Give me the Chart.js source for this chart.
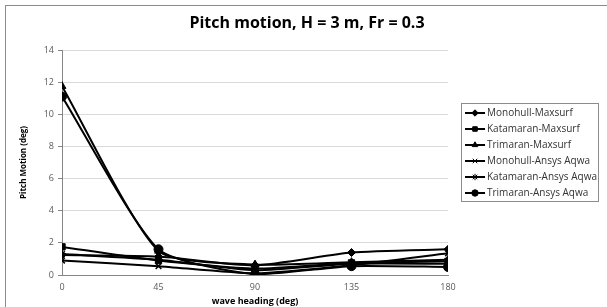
<!DOCTYPE html>
<html>
<head>
<meta charset="utf-8">
<script src="https://cdn.jsdelivr.net/npm/chart.js@4"></script>
<style>
  html, body { margin: 0; padding: 0; background: #fff; }
  #wrap { position: relative; width: 607px; height: 307px; overflow: hidden; }
  #frame { position: absolute; left: 5px; top: 5px; width: 640px; height: 340px; border: 1px solid #8c8c8c; }
  canvas { position: absolute; left: 0; top: 0; }
</style>
</head>
<body>
<div id="wrap">
  <div id="frame"></div>
  <canvas id="c" width="607" height="307"></canvas>
</div>
<script>
/* ---------- 데이터 ---------- */
const chartTitle = "Pitch motion, H = 3 m, Fr = 0.3";
const headings = [0, 45, 90, 135, 180];
const seriesNames = [
  "Monohull-Maxsurf", "Katamaran-Maxsurf", "Trimaran-Maxsurf",
  "Monohull-Ansys Aqwa", "Katamaran-Ansys Aqwa", "Trimaran-Ansys Aqwa"
];
const monoMaxsurf = [1.25, 1.15, 0.6, 1.4, 1.6];
const kataMaxsurf = [1.75, 0.9, 0.4, 0.75, 0.85];
const triMaxsurf  = [11.75, 1.5, 0.65, 0.8, 0.95];
const monoAqwa    = [0.9, 0.55, 0.1, 0.6, 1.35];
const kataAqwa    = [1.3, 0.95, 0.3, 0.7, 0.7];
const triAqwa     = [11.1, 1.6, 0.05, 0.55, 0.5];
const yTicks = [0, 2, 4, 6, 8, 10, 12, 14];
const xTicks = [0, 45, 90, 135, 180];

const allValues = [monoMaxsurf, kataMaxsurf, triMaxsurf, monoAqwa, kataAqwa, triAqwa];
const markers = ["rectRot", "rect", "triangle", "crossRot", "star", "circle"];
const markerSize = [4, 4.5, 4.5, 4, 4, 4.5];

const FONT = "'Open Sans', sans-serif";

const datasets = seriesNames.map((name, i) => ({
  label: name,
  data: headings.map((h, j) => ({ x: h, y: allValues[i][j] })),
  borderColor: "#000",
  backgroundColor: "#000",
  borderWidth: 2,
  tension: 0.2,
  pointStyle: markers[i],
  pointRadius: markerSize[i],
  pointBorderWidth: markers[i] === "crossRot" || markers[i] === "star" ? 1.5 : 1,
  pointBorderColor: "#000",
  pointBackgroundColor: "#000"
}));

/* ---------- 제목 + 범례 (테두리 박스) ---------- */
const titleAndLegend = {
  id: "titleAndLegend",
  afterDraw(chart) {
    const ctx = chart.ctx;
    ctx.save();
    // 제목
    ctx.font = "bold 16px " + FONT;
    ctx.fillStyle = "#000";
    ctx.textAlign = "center";
    ctx.textBaseline = "middle";
    ctx.fillText(chartTitle, 307, 23);

    // 범례
    const x0 = 461, y0 = 103, w = 137, h = 98, rowH = 16;
    ctx.textAlign = "left";
    ctx.strokeStyle = "#8c8c8c";
    ctx.lineWidth = 1;
    ctx.strokeRect(x0 + 0.5, y0 + 0.5, w, h);
    ctx.font = "10px " + FONT;
    seriesNames.forEach((name, i) => {
      const cy = y0 + 10 + i * rowH;
      ctx.strokeStyle = "#000";
      ctx.lineWidth = 2;
      ctx.beginPath();
      ctx.moveTo(x0 + 4, cy);
      ctx.lineTo(x0 + 24, cy);
      ctx.stroke();
      ctx.fillStyle = "#000";
      ctx.lineWidth = 1;
      Chart.helpers.drawPoint(ctx, { pointStyle: markers[i], radius: 3.2, rotation: 0, borderWidth: 1 }, x0 + 14, cy);
      ctx.fillStyle = "#333";
      ctx.fillText(name, x0 + 26, cy);
    });
    ctx.restore();
  }
};

new Chart(document.getElementById("c"), {
  type: "line",
  data: { datasets },
  options: {
    responsive: false,
    animation: false,
    layout: { padding: { left: 19, right: 159, top: 50, bottom: 0 } },
    plugins: {
      legend: { display: false },
      tooltip: { enabled: false },
      title: { display: false }
    },
    scales: {
      x: {
        type: "linear",
        min: 0, max: 180,
        afterBuildTicks: s => { s.ticks = xTicks.map(v => ({ value: v })); },
        afterFit: s => { s.height = 32; },
        grid: { display: false, drawTicks: true, tickLength: 4, color: "#868686" },
        border: { color: "#868686" },
        ticks: { color: "#595959", font: { family: FONT, size: 9 }, padding: 3, maxRotation: 0 },
        title: { display: true, text: "wave heading (deg)", color: "#000", font: { family: FONT, size: 9, weight: "bold" }, padding: { top: 0, bottom: 0 } }
      },
      y: {
        min: 0, max: 14,
        afterBuildTicks: s => { s.ticks = yTicks.map(v => ({ value: v })); },
        afterFit: s => { s.width = 43; },
        grid: { color: "#d9d9d9", tickLength: 4, tickColor: "#868686" },
        border: { color: "#868686" },
        ticks: { color: "#595959", font: { family: FONT, size: 9 }, padding: 4 },
        title: { display: true, text: "Pitch Motion (deg)", color: "#000", font: { family: FONT, size: 8, weight: "bold" }, padding: { top: 0, bottom: 0 } }
      }
    }
  },
  plugins: [titleAndLegend]
});
</script>
</body>
</html>
